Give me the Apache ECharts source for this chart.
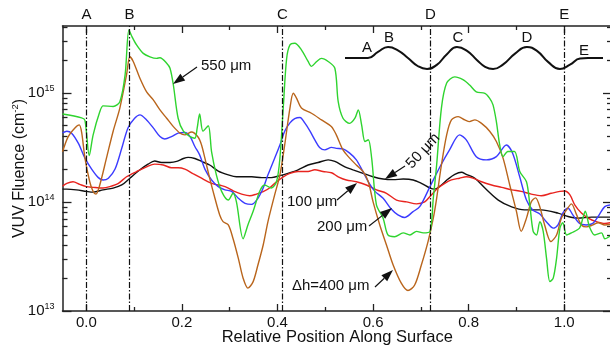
<!DOCTYPE html>
<html><head><meta charset="utf-8">
<script src="https://cdn.jsdelivr.net/npm/echarts@6.0.0/dist/echarts.min.js"></script>
<style>html,body{margin:0;padding:0;background:#fff}#c{width:610px;height:347px}</style>
</head><body><div id="c"></div>
<script>
// ---------- data ----------
const xTickValues = [0, 0.2, 0.4, 0.6, 0.8, 1.0];
const xMinorValues = [0.1, 0.3, 0.5, 0.7, 0.9];
const yDecadeExps = [13, 14, 15];
const yMinorMultipliers = [2, 3, 4, 5, 6, 7, 8, 9];
const yMin = 1e13, yMax = 4.1e15;
const surfacePoints = [
  {name: 'A', x: 0.0}, {name: 'B', x: 0.092}, {name: 'C', x: 0.412},
  {name: 'D', x: 0.724}, {name: 'E', x: 1.0}
];

const black50 = [[-0.05,1.31e14],[-0.041,1.31e14],[-0.021,1.29e14],[0.0,1.25e14],[0.014,1.23e14],[0.035,1.29e14],[0.056,1.34e14],[0.074,1.43e14],[0.091,1.65e14],[0.112,1.97e14],[0.129,2.22e14],[0.143,2.37e14],[0.157,2.3e14],[0.175,2.3e14],[0.189,2.35e14],[0.203,2.5e14],[0.213,2.56e14],[0.227,2.5e14],[0.241,2.35e14],[0.258,2.18e14],[0.276,1.92e14],[0.297,1.77e14],[0.314,1.7e14],[0.346,1.7e14],[0.367,1.67e14],[0.387,1.67e14],[0.405,1.74e14],[0.422,1.83e14],[0.443,1.97e14],[0.464,2.18e14],[0.485,2.3e14],[0.506,2.43e14],[0.520,2.35e14],[0.541,2.1e14],[0.558,1.97e14],[0.579,1.83e14],[0.600,1.7e14],[0.621,1.62e14],[0.642,1.6e14],[0.663,1.62e14],[0.684,1.59e14],[0.701,1.48e14],[0.719,1.34e14],[0.729,1.31e14],[0.743,1.43e14],[0.757,1.62e14],[0.771,1.79e14],[0.785,1.87e14],[0.795,1.79e14],[0.813,1.65e14],[0.834,1.34e14],[0.862,1.04e14],[0.890,9.0e13],[0.917,8.45e13],[0.952,8.45e13],[0.987,7.9e13],[1.008,7.35e13],[1.029,7.1e13],[1.057,7.25e13],[1.1,7.25e13]];

const red100 = [[-0.05,1.39e14],[-0.041,1.48e14],[-0.028,1.53e14],[-0.014,1.45e14],[0.0,1.38e14],[0.014,1.36e14],[0.035,1.34e14],[0.049,1.38e14],[0.067,1.48e14],[0.084,1.7e14],[0.105,1.9e14],[0.126,2.1e14],[0.143,2.22e14],[0.161,2.18e14],[0.178,2.06e14],[0.192,2.06e14],[0.206,2.0e14],[0.223,1.82e14],[0.241,1.65e14],[0.255,1.53e14],[0.269,1.45e14],[0.283,1.41e14],[0.297,1.34e14],[0.311,1.24e14],[0.325,1.18e14],[0.342,1.14e14],[0.356,1.18e14],[0.370,1.24e14],[0.384,1.35e14],[0.398,1.53e14],[0.412,1.7e14],[0.426,1.83e14],[0.443,1.9e14],[0.464,1.9e14],[0.478,1.97e14],[0.495,1.9e14],[0.513,1.85e14],[0.527,1.7e14],[0.544,1.59e14],[0.565,1.53e14],[0.586,1.43e14],[0.607,1.29e14],[0.628,1.2e14],[0.649,1.04e14],[0.670,1.0e14],[0.691,9.6e13],[0.708,1.0e14],[0.722,1.16e14],[0.736,1.34e14],[0.750,1.48e14],[0.764,1.59e14],[0.781,1.65e14],[0.795,1.7e14],[0.809,1.65e14],[0.827,1.53e14],[0.848,1.43e14],[0.869,1.36e14],[0.890,1.29e14],[0.910,1.25e14],[0.931,1.18e14],[0.952,1.14e14],[0.973,1.2e14],[0.991,1.25e14],[1.001,1.26e14],[1.012,1.16e14],[1.022,9.4e13],[1.036,7.9e13],[1.050,7.1e13],[1.067,6.6e13],[1.085,6.35e13],[1.1,6.5e13]];

const blue200 = [[-0.05,4.3e14],[-0.041,4.45e14],[-0.031,4.27e14],[-0.017,3.46e14],[-0.003,2.52e14],[0.011,2.0e14],[0.025,1.67e14],[0.035,1.59e14],[0.046,1.65e14],[0.060,2.0e14],[0.074,3.1e14],[0.087,4.77e14],[0.101,5.85e14],[0.112,6.28e14],[0.126,5.65e14],[0.140,4.77e14],[0.154,3.97e14],[0.164,3.78e14],[0.178,3.97e14],[0.192,4.27e14],[0.206,4.33e14],[0.217,3.97e14],[0.227,3.22e14],[0.237,2.7e14],[0.248,2.0e14],[0.262,1.59e14],[0.276,1.38e14],[0.290,1.29e14],[0.304,1.25e14],[0.318,1.08e14],[0.332,9.7e13],[0.346,9.5e13],[0.359,1.08e14],[0.370,1.34e14],[0.380,1.77e14],[0.394,2.52e14],[0.405,3.33e14],[0.415,4.45e14],[0.426,5.3e14],[0.436,5.8e14],[0.447,5.95e14],[0.457,5.3e14],[0.468,4.45e14],[0.478,3.71e14],[0.488,3.16e14],[0.499,3.0e14],[0.513,3.16e14],[0.523,3.1e14],[0.537,3.06e14],[0.551,2.8e14],[0.565,2.43e14],[0.576,2.0e14],[0.590,1.53e14],[0.604,1.25e14],[0.621,1.08e14],[0.638,8.6e13],[0.652,7.6e13],[0.666,7.2e13],[0.683,8.1e13],[0.698,9.1e13],[0.719,1.38e14],[0.740,2.1e14],[0.760,3.0e14],[0.781,4.12e14],[0.795,3.71e14],[0.816,2.6e14],[0.837,2.43e14],[0.858,2.6e14],[0.879,3.33e14],[0.892,2.8e14],[0.907,1.69e14],[0.921,1.04e14],[0.934,8.45e13],[0.949,7.75e13],[0.963,6.55e13],[0.977,5.75e13],[0.987,6.15e13],[0.997,7.9e13],[1.008,8.75e13],[1.018,7.6e13],[1.032,6.35e13],[1.046,6.15e13],[1.060,6.35e13],[1.071,7.35e13],[1.085,9.05e13],[1.1,9.4e13]];

const brown400 = [[-0.05,2.88e14],[-0.038,3.97e14],[-0.024,4.77e14],[-0.015,5.09e14],[-0.010,4.36e14],[-0.003,2.52e14],[0.007,1.53e14],[0.014,1.25e14],[0.020,1.18e14],[0.028,1.43e14],[0.042,2.52e14],[0.056,4.45e14],[0.070,7.25e14],[0.084,1.46e15],[0.091,2.14e15],[0.098,1.94e15],[0.112,1.36e15],[0.126,1.02e15],[0.140,8.63e14],[0.154,6.98e14],[0.168,5.85e14],[0.182,4.9e14],[0.196,4.27e14],[0.206,4.12e14],[0.220,4.37e14],[0.234,3.92e14],[0.241,3.33e14],[0.248,2.52e14],[0.258,1.65e14],[0.269,1.08e14],[0.279,7.6e13],[0.286,6.6e13],[0.297,6.15e13],[0.307,4.6e13],[0.318,3.04e13],[0.328,2.0e13],[0.338,1.62e13],[0.349,1.86e13],[0.359,2.64e13],[0.370,4.03e13],[0.380,6.6e13],[0.394,1.16e14],[0.405,1.77e14],[0.415,3.33e14],[0.426,7.25e14],[0.433,9.9e14],[0.440,8.9e14],[0.450,7.25e14],[0.471,6.5e14],[0.492,5.65e14],[0.513,4.9e14],[0.523,4.12e14],[0.537,3.0e14],[0.551,2.52e14],[0.565,2.18e14],[0.579,1.9e14],[0.590,1.53e14],[0.600,1.0e14],[0.614,6.15e13],[0.628,4.03e13],[0.642,2.64e13],[0.659,1.8e13],[0.673,1.54e13],[0.687,1.73e13],[0.701,2.64e13],[0.715,4.33e13],[0.726,7.1e13],[0.733,1.08e14],[0.743,2.18e14],[0.754,4.12e14],[0.764,5.65e14],[0.778,6.05e14],[0.792,5.65e14],[0.802,5.45e14],[0.813,5.65e14],[0.827,5.25e14],[0.844,4.45e14],[0.858,3.58e14],[0.872,2.52e14],[0.886,1.43e14],[0.900,8.2e13],[0.910,5.37e13],[0.921,7.1e13],[0.931,1.0e14],[0.940,1.09e14],[0.949,9.0e13],[0.959,6.15e13],[0.972,4.33e13],[0.984,4.98e13],[0.994,7.1e13],[1.005,8.45e13],[1.015,9.6e13],[1.026,7.6e13],[1.036,6.15e13],[1.046,5.9e13],[1.060,6.15e13],[1.071,6.45e13],[1.085,6.15e13],[1.1,6.25e13]];

const green550 = [[-0.05,6.4e14],[-0.010,5.9e14],[-0.003,5.6e14],[0.006,2.66e14],[0.014,4.1e14],[0.028,6.7e14],[0.035,7.6e14],[0.056,7.5e14],[0.070,8.3e14],[0.081,1.46e15],[0.089,3.78e15],[0.095,3.3e15],[0.105,2.75e15],[0.119,2.3e15],[0.133,2.14e15],[0.147,2.07e15],[0.154,2.1e15],[0.168,1.87e15],[0.175,1.68e15],[0.182,1.18e15],[0.192,5.85e14],[0.203,4.45e14],[0.217,3.97e14],[0.227,3.84e14],[0.232,4.8e14],[0.237,6.4e14],[0.244,4.45e14],[0.255,5.0e14],[0.262,2.87e14],[0.272,1.77e14],[0.283,1.25e14],[0.297,1.04e14],[0.307,1.2e14],[0.314,1.0e14],[0.328,4.6e13],[0.338,6.15e13],[0.349,8.2e13],[0.363,1.26e14],[0.373,1.43e14],[0.387,1.34e14],[0.398,1.54e14],[0.405,2.52e14],[0.412,7.3e14],[0.419,2.05e15],[0.426,2.75e15],[0.436,2.85e15],[0.450,2.48e15],[0.464,1.94e15],[0.471,1.75e15],[0.482,1.94e15],[0.492,2.07e15],[0.506,1.94e15],[0.520,1.68e15],[0.527,8.3e14],[0.537,5.85e14],[0.551,5.25e14],[0.562,5.85e14],[0.569,6.98e14],[0.576,5.09e14],[0.583,3.58e14],[0.590,3.71e14],[0.597,2.52e14],[0.607,9.4e13],[0.621,7.1e13],[0.631,4.98e13],[0.645,4.8e13],[0.663,5.2e13],[0.677,4.98e13],[0.691,5.37e13],[0.705,5.2e13],[0.719,5.37e13],[0.726,1.08e14],[0.733,2.18e14],[0.743,7.25e14],[0.754,1.23e15],[0.771,1.4e15],[0.788,1.32e15],[0.802,1.18e15],[0.816,1.02e15],[0.834,9.9e14],[0.844,8.9e14],[0.851,7.76e14],[0.858,5.45e14],[0.865,3.33e14],[0.872,2.6e14],[0.882,2.9e14],[0.896,2.9e14],[0.907,1.9e14],[0.921,1.53e14],[0.928,9.4e13],[0.935,5.37e13],[0.942,4.98e13],[0.949,6.6e13],[0.956,5.37e13],[0.963,3.04e13],[0.970,1.86e13],[0.977,2.0e13],[0.984,3.04e13],[0.991,5.75e13],[0.997,6.45e13],[1.005,4.98e13],[1.015,5.2e13],[1.032,5.75e13],[1.039,7.1e13],[1.044,8.2e13],[1.053,5.9e13],[1.064,4.98e13],[1.078,5.2e13],[1.085,4.6e13],[1.1,4.98e13]];

// surface profile schematic (inset): position 0..1, height -1..1
const profileX = [0,0.089,0.128,0.167,0.205,0.244,0.283,0.318,0.357,0.395,0.434,0.473,0.512,0.543,0.574,0.612,0.659,0.705,0.744,0.787,0.833,0.872,0.911,0.942,1.0];
const profileH = [0,0,0.55,1,0.7,0,-0.75,-1,-0.6,0.35,1,0.65,-0.2,-0.8,-1,-0.6,0.4,1,0.65,-0.35,-1,-0.6,-0.05,0,0];

// ---------- chart ----------
const FONT = 'Liberation Sans, Arial, Helvetica, sans-serif';
const AX = '#222';
const logMax = Math.log10(yMax);
const minorExps = [];
yDecadeExps.concat([12]).forEach(d => yMinorMultipliers.forEach(m => {
  const v = Math.log10(m) + d; if (v > 13 && v < logMax) minorExps.push(v);
}));

function arrow(x1, y1, x2, y2) {
  const L = 12, W = 4.2;
  const dx = x2 - x1, dy = y2 - y1, len = Math.hypot(dx, dy);
  const ux = dx / len, uy = dy / len;
  const bx = x2 - ux * L, by = y2 - uy * L;
  return [
    {type: 'line', shape: {x1, y1, x2: bx, y2: by}, style: {stroke: '#111', lineWidth: 1.2}, z: 50},
    {type: 'polygon', shape: {points: [[x2, y2], [bx - uy * W, by + ux * W], [bx + uy * W, by - ux * W]]}, style: {fill: '#111'}, z: 50}
  ];
}
function txt(x, y, s, align, rot) {
  return {type: 'text', x, y, rotation: rot || 0,
    style: {text: s, font: '15px ' + FONT, fill: '#111', textAlign: align || 'left', textVerticalAlign: 'middle'}, z: 50};
}

const supRich = {
  b: {fontSize: 15, fontFamily: FONT, color: '#111'},
  s: {fontSize: 9, fontFamily: FONT, color: '#111', padding: [0, 0, 9, 0]}
};

const tickStyle = {color: AX, width: 1.3};

const lineSeries = (name, data, color) => ({
  name, type: 'line', data, xAxisIndex: 0, yAxisIndex: 0,
  showSymbol: false, smooth: 0.3, lineStyle: {color, width: 1.4}, itemStyle: {color},
  silent: true, animation: false
});

const series = [
  lineSeries('50', black50, '#111111'),
  lineSeries('100', red100, '#e8241f'),
  lineSeries('200', blue200, '#3b3bff'),
  lineSeries('400', brown400, '#b9651c'),
  lineSeries('550', green550, '#2fd42f'),
  {
    type: 'line', data: profileX.map((x, i) => [x, profileH[i]]), xAxisIndex: 4, yAxisIndex: 5,
    showSymbol: false, smooth: 0.5, lineStyle: {color: '#111', width: 2}, silent: true, animation: false
  }
];
series[0].markLine = {
  silent: true, symbol: ['none', 'none'], animation: false,
  lineStyle: {color: '#111', width: 1.2, type: [6, 2, 1.5, 2]},
  label: {show: true, position: 'end', formatter: '{b}', fontSize: 15, fontFamily: FONT, color: '#111', distance: 4},
  data: surfacePoints.map(p => ({xAxis: p.x, name: p.name}))
};

const hiddenLine = {show: false, onZero: false};
const option = {
  animation: false,
  backgroundColor: '#fff',
  textStyle: {fontFamily: FONT},
  grid: [
    {left: 62.5, top: 26, right: -2, bottom: 36, containLabel: false, outerBoundsMode: 'none'},
    {left: 345, top: 47, width: 258, height: 22, containLabel: false, outerBoundsMode: 'none'}
  ],
  xAxis: [
    {type: 'value', gridIndex: 0, min: -0.05, max: 1.1, position: 'bottom',
     axisLine: {show: true, onZero: false, lineStyle: {color: AX, width: 1.5}},
     axisTick: {show: true, inside: true, length: 7, customValues: xTickValues, lineStyle: tickStyle},
     axisLabel: {show: true, customValues: xTickValues, formatter: v => v.toFixed(1), fontSize: 15, color: '#111', margin: 4, fontFamily: FONT},
     splitLine: {show: false},
     name: 'Relative Position Along Surface', nameLocation: 'middle', nameGap: 18, nameMoveOverlap: false,
     nameTextStyle: {fontSize: 16.5, color: '#111', fontFamily: FONT}},
    {type: 'value', gridIndex: 0, min: -0.05, max: 1.1, position: 'bottom',
     axisLine: hiddenLine, axisTick: {show: true, inside: true, length: 4, customValues: xMinorValues, lineStyle: tickStyle},
     axisLabel: {show: false}, splitLine: {show: false}},
    {type: 'value', gridIndex: 0, min: -0.05, max: 1.1, position: 'top',
     axisLine: {show: true, onZero: false, lineStyle: {color: AX, width: 1.5}},
     axisTick: {show: true, inside: true, length: 7, customValues: xTickValues, lineStyle: tickStyle},
     axisLabel: {show: false}, splitLine: {show: false}},
    {type: 'value', gridIndex: 0, min: -0.05, max: 1.1, position: 'top',
     axisLine: hiddenLine, axisTick: {show: true, inside: true, length: 4, customValues: xMinorValues, lineStyle: tickStyle},
     axisLabel: {show: false}, splitLine: {show: false}},
    {type: 'value', gridIndex: 1, min: 0, max: 1, show: false, axisLine: hiddenLine}
  ],
  yAxis: [
    {type: 'log', logBase: 10, gridIndex: 0, min: yMin, max: yMax, position: 'left',
     axisLine: {show: true, onZero: false, lineStyle: {color: AX, width: 1.5}},
     axisTick: {show: false}, axisLabel: {show: false}, splitLine: {show: false}, minorTick: {show: false}},
    {type: 'value', gridIndex: 0, min: 13, max: logMax, position: 'left',
     axisLine: hiddenLine,
     axisTick: {show: true, inside: true, length: 9, customValues: yDecadeExps, lineStyle: tickStyle},
     axisLabel: {show: true, customValues: yDecadeExps, margin: 8, formatter: v => '{b|10}{s|' + Math.round(v) + '}', rich: supRich},
     splitLine: {show: false},
     name: '{a|VUV Fluence (cm}{s|-2}{a|)}', nameLocation: 'middle', nameGap: 33, nameMoveOverlap: false,
     nameTextStyle: {rich: {a: {fontSize: 16, fontFamily: FONT, color: '#111'}, s: {fontSize: 9.5, fontFamily: FONT, color: '#111', padding: [0, 0, 9, 0]}}}},
    {type: 'value', gridIndex: 0, min: 13, max: logMax, position: 'left',
     axisLine: hiddenLine,
     axisTick: {show: true, inside: true, length: 5, customValues: minorExps, lineStyle: tickStyle},
     axisLabel: {show: false}, splitLine: {show: false}},
    {type: 'value', gridIndex: 0, min: 13, max: logMax, position: 'right',
     axisLine: {show: true, onZero: false, lineStyle: {color: AX, width: 1.5}},
     axisTick: {show: true, inside: true, length: 9, customValues: yDecadeExps, lineStyle: tickStyle},
     axisLabel: {show: false}, splitLine: {show: false}},
    {type: 'value', gridIndex: 0, min: 13, max: logMax, position: 'right',
     axisLine: hiddenLine,
     axisTick: {show: true, inside: true, length: 5, customValues: minorExps, lineStyle: tickStyle},
     axisLabel: {show: false}, splitLine: {show: false}},
    {type: 'value', gridIndex: 1, min: -1, max: 1, show: false, axisLine: hiddenLine}
  ],
  series,
  graphic: [
    txt(201, 66, '550 μm'),
    ...arrow(197, 67, 173, 84),
    txt(423, 151, '50 μm', 'center', 0.82),
    ...arrow(405, 166, 385, 179),
    txt(287, 202, '100 μm'),
    ...arrow(337, 200, 357, 183),
    txt(317, 227, '200 μm'),
    ...arrow(369, 226, 392, 208),
    txt(292, 286, 'Δh=400 μm'),
    ...arrow(375, 287, 393, 270),
    txt(367, 48, 'A', 'center'),
    txt(389, 38, 'B', 'center'),
    txt(458, 38, 'C', 'center'),
    txt(527, 38, 'D', 'center'),
    txt(584, 51, 'E', 'center')
  ]
};

const chart = echarts.init(document.getElementById('c'), null, {renderer: 'canvas'});
chart.setOption(option);
</script></body></html>
